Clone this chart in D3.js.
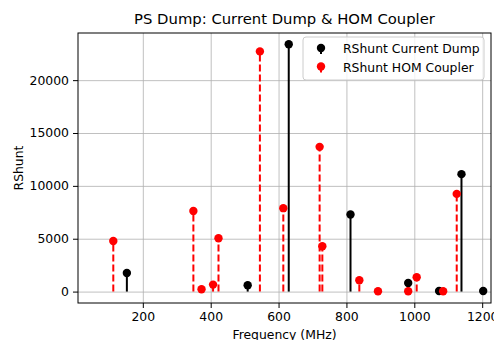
<!DOCTYPE html>
<meta charset="utf-8">
<style>
  body { margin: 0; background: #fff; }
  text { font-family: "DejaVu Sans", sans-serif; fill: #000; }
</style>
<svg width="494" height="340"></svg>
<script src="https://cdn.jsdelivr.net/npm/d3@7"></script>
<script>

// Current dump resonances (MHz, RShunt)
var dumpFreq  = [153, 509, 630, 812, 982, 1073, 1139, 1203];
var dumpShunt = [1760, 600, 23390, 7290, 815, 50, 11110, 50];

// HOM coupler resonances
var homFreq  = [113, 349, 373, 407, 423, 545, 614, 721, 729, 838, 893, 982, 1007, 1085, 1125];
var homShunt = [4790, 7630, 220, 660, 5050, 22720, 7890, 13690, 4290, 1070, 30, 30, 1350, 30, 9240];

var xTicks = [200, 400, 600, 800, 1000, 1200];
var yTicks = [0, 5000, 10000, 15000, 20000];

var svg = d3.select("svg"),
    margin = {top: 33, right: 3, bottom: 37, left: 78},
    width = +svg.attr("width") - margin.left - margin.right,
    height = +svg.attr("height") - margin.top - margin.bottom;
var g = svg.append("g").attr("transform", "translate(" + margin.left + "," + margin.top + ")");

var x = d3.scaleLinear().domain([9, 1226]).range([0, width]);
var y = d3.scaleLinear().domain([-1080, 24460]).range([height, 0]);

// grid
g.append("g")
    .attr("transform", "translate(0," + height + ")")
    .call(d3.axisBottom(x).tickValues(xTicks).tickSize(-height).tickFormat(""))
    .call(function(s) {
      s.select(".domain").remove();
      s.selectAll("line").attr("stroke", "#b0b0b0").attr("stroke-width", 0.8);
    });
g.append("g")
    .call(d3.axisLeft(y).tickValues(yTicks).tickSize(-width).tickFormat(""))
    .call(function(s) {
      s.select(".domain").remove();
      s.selectAll("line").attr("stroke", "#b0b0b0").attr("stroke-width", 0.8);
    });

var dump = dumpFreq.map(function(f, i) { return {f: f, v: dumpShunt[i]}; });
var hom = homFreq.map(function(f, i) { return {f: f, v: homShunt[i]}; });

// stems
g.selectAll(".homstem").data(hom).enter().append("line")
    .attr("x1", function(d) { return x(d.f); })
    .attr("x2", function(d) { return x(d.f); })
    .attr("y1", y(0))
    .attr("y2", function(d) { return y(d.v); })
    .attr("stroke", "red")
    .attr("stroke-width", 2)
    .attr("stroke-dasharray", "7,3");

g.selectAll(".dumpstem").data(dump).enter().append("line")
    .attr("x1", function(d) { return x(d.f); })
    .attr("x2", function(d) { return x(d.f); })
    .attr("y1", y(0))
    .attr("y2", function(d) { return y(d.v); })
    .attr("stroke", "black")
    .attr("stroke-width", 2);

g.selectAll(".dumpdot").data(dump).enter().append("circle")
    .attr("cx", function(d) { return x(d.f); })
    .attr("cy", function(d) { return y(d.v); })
    .attr("r", 4.2)
    .attr("fill", "black");

g.selectAll(".homdot").data(hom).enter().append("circle")
    .attr("cx", function(d) { return x(d.f); })
    .attr("cy", function(d) { return y(d.v); })
    .attr("r", 4.2)
    .attr("fill", "red");

// axes
var xAxis = g.append("g")
    .attr("transform", "translate(0," + height + ")")
    .call(d3.axisBottom(x).tickValues(xTicks).tickSize(5).tickPadding(4).tickFormat(d3.format("d")));
var yAxis = g.append("g")
    .call(d3.axisLeft(y).tickValues(yTicks).tickSize(5).tickPadding(4).tickFormat(d3.format("d")));
[xAxis, yAxis].forEach(function(a) {
  a.select(".domain").remove();
  a.selectAll("text").style("font-size", "12.4px").attr("fill", "#000");
  a.selectAll("line").attr("stroke", "#000");
});

g.append("rect")
    .attr("width", width).attr("height", height)
    .attr("fill", "none").attr("stroke", "#000").attr("stroke-width", 1);

// labels
svg.append("text")
    .attr("x", margin.left + width / 2).attr("y", 24)
    .attr("text-anchor", "middle")
    .style("font-size", "14.8px")
    .text("PS Dump: Current Dump & HOM Coupler");

svg.append("text")
    .attr("x", margin.left + width / 2).attr("y", 338.5)
    .attr("text-anchor", "middle")
    .style("font-size", "12.4px")
    .text("Frequency (MHz)");

svg.append("text")
    .attr("transform", "translate(23," + (margin.top + height / 2) + ") rotate(-90)")
    .attr("text-anchor", "middle")
    .style("font-size", "12.4px")
    .text("RShunt");

// legend
var leg = svg.append("g").attr("transform", "translate(303,37)");
leg.append("rect")
    .attr("width", 181).attr("height", 43).attr("rx", 3)
    .attr("fill", "#fff").attr("fill-opacity", 0.8)
    .attr("stroke", "#ccc");
var legItems = [
  {label: "RShunt Current Dump", color: "black"},
  {label: "RShunt HOM Coupler", color: "red"}
];
legItems.forEach(function(it, i) {
  var row = leg.append("g").attr("transform", "translate(18," + (11 + i * 18.5) + ")");
  row.append("line").attr("x1", 0).attr("x2", 0).attr("y1", 0).attr("y2", 6)
      .attr("stroke", it.color).attr("stroke-width", 2);
  row.append("circle").attr("r", 4.2).attr("fill", it.color);
  row.append("text").attr("x", 22).attr("y", 5)
      .style("font-size", "12.4px").text(it.label);
});

</script>
